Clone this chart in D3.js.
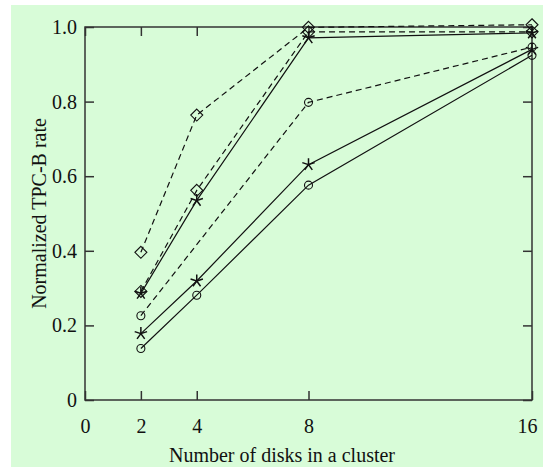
<!DOCTYPE html>
<html>
<head>
<meta charset="utf-8">
<script src="https://cdn.jsdelivr.net/npm/d3@7"></script>
<style>
  body { margin: 0; background: #fff; }
  text { font-family: "Liberation Serif", "Times New Roman", serif; fill: #111; }
</style>
</head>
<body>
<div id="chart-area"></div>
<script>
// disks per cluster
var disks = [2, 4, 8, 16];
var disksNo4 = [2, 8, 16];

// normalized TPC-B rate, one array per curve
var dashDiamondHigh = [0.396, 0.764, 0.999, 1.006];
var dashDiamondLow  = [0.291, 0.562, 0.987, 0.987];
var solidStarHigh   = [0.286, 0.535, 0.971, 0.984];
var dashCircle      = [0.226, 0.798, 0.946];
var solidStarLow    = [0.178, 0.319, 0.631, 0.940];
var solidCircle     = [0.138, 0.281, 0.576, 0.924];

var xTicks = [0, 2, 4, 8, 16];
var yTicks = [0, 0.2, 0.4, 0.6, 0.8, 1.0];

var series = [
    { xs: disks,    ys: dashDiamondHigh, dash: "6,4", mark: "diamond" },
    { xs: disks,    ys: dashDiamondLow,  dash: "6,4", mark: "diamond" },
    { xs: disks,    ys: solidStarHigh,   dash: null,  mark: "star" },
    { xs: disksNo4, ys: dashCircle,      dash: "6,4", mark: "circle" },
    { xs: disks,    ys: solidStarLow,    dash: null,  mark: "star" },
    { xs: disks,    ys: solidCircle,     dash: null,  mark: "circle" }
];

var W = 543, H = 468;
var plot = { left: 85, right: 532, top: 27, bottom: 400 };

var svg = d3.select("#chart-area")
    .append("svg")
        .attr("width", W)
        .attr("height", H);

svg.append("rect")
    .attr("x", 11).attr("y", 5)
    .attr("width", W - 11).attr("height", 462)
    .attr("fill", "#d8fcd8");

var x = d3.scaleLinear().domain([0, 16]).range([plot.left, plot.right]);
var y = d3.scaleLinear().domain([0, 1]).range([plot.bottom, plot.top]);

// axes, ticks pointing inward
var bottomAxis = d3.axisBottom(x).tickValues(xTicks)
    .tickSizeInner(-9).tickSizeOuter(0).tickPadding(19)
    .tickFormat(d3.format("d"));
var leftAxis = d3.axisLeft(y).tickValues(yTicks)
    .tickSizeInner(-9).tickSizeOuter(0).tickPadding(8)
    .tickFormat(function(d){ return d === 0 ? "0" : d3.format(".1f")(d); });
var topAxis = d3.axisTop(x).tickValues(xTicks)
    .tickSizeInner(-9).tickSizeOuter(0).tickFormat("");
var rightAxis = d3.axisRight(y).tickValues(yTicks)
    .tickSizeInner(-9).tickSizeOuter(0).tickFormat("");

var gb = svg.append("g").attr("transform", "translate(0," + plot.bottom + ")").call(bottomAxis);
var gl = svg.append("g").attr("transform", "translate(" + plot.left + ",0)").call(leftAxis);
var gt = svg.append("g").attr("transform", "translate(0," + plot.top + ")").call(topAxis);
var gr = svg.append("g").attr("transform", "translate(" + plot.right + ",0)").call(rightAxis);

[gb, gl, gt, gr].forEach(function(g){
    g.select(".domain").remove();
    g.selectAll("line").attr("stroke", "#333").attr("stroke-width", 1.5);
    g.selectAll("text").attr("font-size", 20).attr("fill", "#111")
        .style("font-family", "'Liberation Serif', 'Times New Roman', serif");
});
gb.selectAll(".tick").filter(function(d){ return d === 16; })
    .select("text").attr("dx", -5);

svg.append("rect")
    .attr("x", plot.left).attr("y", plot.top)
    .attr("width", plot.right - plot.left).attr("height", plot.bottom - plot.top)
    .attr("fill", "none")
    .attr("stroke", "#333")
    .attr("stroke-width", 1.5);

// curves
var line = d3.line()
    .x(function(d){ return x(d[0]); })
    .y(function(d){ return y(d[1]); });

var starPath = (function(){
    var r = 6.5, p = "";
    for (var i = 0; i < 5; i++) {
        var a = -Math.PI / 2 + i * 2 * Math.PI / 5;
        p += "M0,0L" + (r * Math.cos(a)).toFixed(2) + "," + (r * Math.sin(a)).toFixed(2);
    }
    return p;
})();

series.forEach(function(s){
    var pts = s.xs.map(function(v, i){ return [v, s.ys[i]]; });

    svg.append("path")
        .datum(pts)
        .attr("d", line)
        .attr("fill", "none")
        .attr("stroke", "#111")
        .attr("stroke-width", 1.2)
        .attr("stroke-dasharray", s.dash);

    var m = svg.selectAll(null)
        .data(pts)
        .enter()
        .append("g")
            .attr("transform", function(d){ return "translate(" + x(d[0]) + "," + y(d[1]) + ")"; });

    if (s.mark === "circle") {
        m.append("circle").attr("r", 4)
            .attr("fill", "none").attr("stroke", "#111").attr("stroke-width", 1.1);
    } else if (s.mark === "diamond") {
        m.append("path").attr("d", "M0,-6L6,0L0,6L-6,0Z")
            .attr("fill", "none").attr("stroke", "#111").attr("stroke-width", 1.1);
    } else {
        m.append("path").attr("d", starPath)
            .attr("fill", "none").attr("stroke", "#111").attr("stroke-width", 1.5);
    }
});

// axis titles
svg.append("text")
    .attr("x", 282)
    .attr("y", 462)
    .attr("text-anchor", "middle")
    .attr("font-size", 20)
    .text("Number of disks in a cluster");

svg.append("text")
    .attr("transform", "rotate(-90)")
    .attr("x", -(plot.top + plot.bottom) / 2)
    .attr("y", 46)
    .attr("text-anchor", "middle")
    .attr("font-size", 20)
    .text("Normalized TPC-B rate");
</script>
</body>
</html>
